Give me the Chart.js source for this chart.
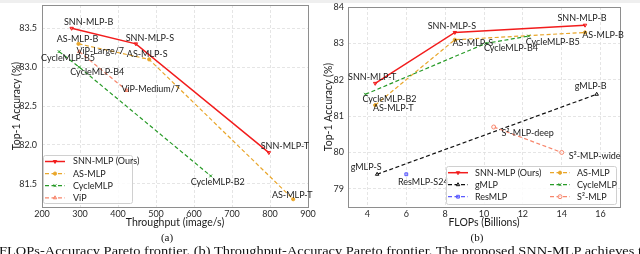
<!DOCTYPE html>
<html>
<head>
<meta charset="utf-8">
<script src="https://cdn.jsdelivr.net/npm/chart.js@4.4.1/dist/chart.umd.min.js"></script>
<style>
  html, body { margin: 0; padding: 0; background: #fff; }
  body { width: 640px; height: 254px; overflow: hidden; position: relative; }
  .topband { position: absolute; left: 0; top: 0; width: 640px; height: 3px; background: #efefef; }
  .panel { position: absolute; top: 0; width: 320px; height: 232px; }
  .sub { position: absolute; top: 231px; font: 11px/12px "Liberation Serif", serif; color: #111; transform: translateX(-50%); }
  .caption { position: absolute; left: -1px; top: 244px; white-space: nowrap; font: 13px/13px "Liberation Serif", serif; color: #111; transform-origin: 0 0; }
</style>
</head>
<body>
<div class="topband"></div>
<div class="panel" style="left:0"><canvas id="chartA" width="320" height="232"></canvas></div>
<div class="panel" style="left:320px"><canvas id="chartB" width="320" height="232"></canvas></div>
<div class="sub" style="left:167px">(a)</div>
<div class="sub" style="left:477px">(b)</div>
<div class="caption" id="caption">FLOPs-Accuracy Pareto frontier. (b) Throughput-Accuracy Pareto frontier. The proposed SNN-MLP achieves t</div>
<script>
// (a) throughput vs top-1
const snnThroughput = [278, 447, 797];
const snnAccA = [83.5, 83.3, 81.9];
const snnNamesA = ['SNN-MLP-B', 'SNN-MLP-S', 'SNN-MLP-T'];
const asThroughput = [296, 482, 861];
const asAccA = [83.3, 83.1, 81.3];
const asNamesA = ['AS-MLP-B', 'AS-MLP-S', 'AS-MLP-T'];
const cycleThroughput = [245, 298, 644];
const cycleAccA = [83.2, 83.0, 81.6];
const cycleNamesA = ['CycleMLP-B5', 'CycleMLP-B4', 'CycleMLP-B2'];
const vipThroughput = [298, 423];
const vipAcc = [83.2, 82.7];
const vipNames = ['ViP-Large/7', 'ViP-Medium/7'];
const throughputTicks = [200, 300, 400, 500, 600, 700, 800, 900];
const accTicksA = [81.5, 82.0, 82.5, 83.0, 83.5];

// (b) FLOPs vs top-1
const snnFlops = [4.4, 8.5, 15.2];
const snnAccB = [81.9, 83.3, 83.5];
const snnNamesB = ['SNN-MLP-T', 'SNN-MLP-S', 'SNN-MLP-B'];
const asFlops = [4.4, 8.5, 15.2];
const asAccB = [81.3, 83.1, 83.3];
const asNamesB = ['AS-MLP-T', 'AS-MLP-S', 'AS-MLP-B'];
const cycleFlops = [3.9, 10.1, 12.3];
const cycleAccB = [81.6, 83.0, 83.2];
const cycleNamesB = ['CycleMLP-B2', 'CycleMLP-B4', 'CycleMLP-B5'];
const gmlpFlops = [4.5, 15.8];
const gmlpAcc = [79.4, 81.6];
const gmlpNames = ['gMLP-S', 'gMLP-B'];
const resFlops = [6.0];
const resAcc = [79.4];
const resNames = ['ResMLP-S24'];
const s2Flops = [10.5, 14.0];
const s2Acc = [80.7, 80.0];
const s2Names = ['S²-MLP-deep', 'S²-MLP-wide'];
const flopsTicks = [4, 6, 8, 10, 12, 14, 16];
const accTicksB = [79, 80, 81, 82, 83, 84];

const FONT = 'Lato, "Open Sans", sans-serif';
const RED = '#f21c1c', ORANGE = '#e9a62a', GREEN = '#279a27', SALMON = '#f7866c', BLUE = '#5a5aff', BLACK = '#111111';

const pts = (xs, ys) => xs.map((x, i) => ({ x: x, y: ys[i] }));

function series(label, xs, ys, names, color, style, extra) {
  return Object.assign({
    label: label,
    data: pts(xs, ys),
    names: names,
    borderColor: color,
    backgroundColor: color,
    pointBorderColor: color,
    pointBackgroundColor: color,
    borderWidth: 1.2,
    borderDash: [4, 2.5],
    pointStyle: style,
    pointRadius: 2,
    pointBorderWidth: 1,
    showLine: true,
    fill: false,
    tension: 0
  }, extra || {});
}

// label positions relative to the point (px)
const offsetsA = {
  'SNN-MLP-B': [17, -6], 'SNN-MLP-S': [14, -6], 'SNN-MLP-T': [16, -7],
  'AS-MLP-B': [-1, -5], 'AS-MLP-S': [-2, -5], 'AS-MLP-T': [-1, -4],
  'CycleMLP-B5': [9, 6], 'CycleMLP-B4': [18, 5], 'CycleMLP-B2': [7, 6],
  'ViP-Large/7': [21, -1], 'ViP-Medium/7': [24, -1]
};
const offsetsB = {
  'SNN-MLP-T': [-3, -6], 'SNN-MLP-S': [-3, -6], 'SNN-MLP-B': [-3, -7],
  'AS-MLP-T': [18, 3], 'AS-MLP-S': [18, 3], 'AS-MLP-B': [18, 3],
  'CycleMLP-B2': [24, 5], 'CycleMLP-B4': [25, 5], 'CycleMLP-B5': [24, 6],
  'gMLP-S': [-11, -7], 'gMLP-B': [-6, -8], 'ResMLP-S24': [17, 8],
  'S²-MLP-deep': [34, 6], 'S²-MLP-wide': [33, 4]
};

const frame = {
  id: 'frame',
  beforeDatasetsDraw(chart) {
    const a = chart.chartArea, ctx = chart.ctx;
    ctx.save();
    ctx.strokeStyle = '#8e8e8e';
    ctx.lineWidth = 1;
    ctx.strokeRect(Math.round(a.left) + 0.5, Math.round(a.top) + 0.5, Math.round(a.right - a.left), Math.round(a.bottom - a.top));
    ctx.restore();
  }
};

const pointLabels = {
  id: 'pointLabels',
  afterDatasetsDraw(chart, args, opts) {
    const ctx = chart.ctx;
    ctx.save();
    ctx.font = '9px ' + FONT;
    ctx.fillStyle = '#1b1b1b';
    ctx.textAlign = 'center';
    ctx.textBaseline = 'middle';
    chart.data.datasets.forEach((ds, di) => {
      if (!ds.names) return;
      const meta = chart.getDatasetMeta(di);
      ds.names.forEach((name, i) => {
        const el = meta.data[i];
        const off = opts.offsets[name] || [0, 0];
        ctx.fillText(name, el.x + off[0], el.y + off[1]);
      });
    });
    ctx.restore();
  }
};

const boxLegend = {
  id: 'boxLegend',
  afterDraw(chart, args, opts) {
    const ctx = chart.ctx;
    ctx.save();
    ctx.fillStyle = 'rgba(255,255,255,0.85)';
    ctx.strokeStyle = '#d0d0d0';
    ctx.lineWidth = 1;
    ctx.beginPath();
    ctx.roundRect(opts.x + 0.5, opts.y + 0.5, opts.w, opts.h, 2);
    ctx.fill();
    ctx.stroke();
    ctx.font = '9px ' + FONT;
    ctx.textBaseline = 'middle';
    ctx.textAlign = 'left';
    opts.columns.forEach(col => {
      col.items.forEach((di, r) => {
        const ds = chart.data.datasets[di];
        const y = opts.firstRow + r * opts.rowH;
        ctx.strokeStyle = ds.borderColor;
        ctx.lineWidth = ds.borderWidth;
        ctx.setLineDash(ds.borderDash || []);
        ctx.beginPath();
        ctx.moveTo(col.x, y);
        ctx.lineTo(col.x + opts.lineW, y);
        ctx.stroke();
        ctx.setLineDash([]);
        ctx.fillStyle = ds.pointBackgroundColor;
        ctx.strokeStyle = ds.pointBorderColor;
        ctx.lineWidth = ds.pointBorderWidth;
        Chart.helpers.drawPoint(ctx, { pointStyle: ds.pointStyle, radius: ds.pointRadius, rotation: ds.pointRotation || 0, borderWidth: ds.pointBorderWidth }, col.x + opts.lineW / 2, y);
        ctx.fillStyle = '#1b1b1b';
        ctx.fillText(ds.label, col.x + opts.lineW + opts.gap, y);
      });
    });
    ctx.restore();
  }
};

function axis(min, max, ticks, title, fmt, fit, tickPad, titlePad) {
  return {
    type: 'linear',
    min: min,
    max: max,
    afterBuildTicks: s => { s.ticks = ticks.map(v => ({ value: v })); },
    afterFit: fit,
    grid: { color: '#dedede', lineWidth: 0.8, drawTicks: false },
    border: { display: false, dash: [3, 2] },
    ticks: { autoSkip: false, maxRotation: 0, padding: tickPad, color: '#2a2a2a', font: { family: FONT, size: 9 }, callback: v => fmt(v) },
    title: { display: true, text: title, color: '#1b1b1b', font: { family: FONT, size: 10.5 }, padding: titlePad }
  };
}
const fitY = w => s => { s.width = w; s.paddingTop = 0; s.paddingBottom = 0; };
const fitX = h => s => { s.height = h; s.paddingLeft = 0; s.paddingRight = 0; };

const datasetsA = [
  series('SNN-MLP (Ours)', snnThroughput, snnAccA, snnNamesA, RED, 'triangle', { borderDash: [], borderWidth: 1.5, pointRotation: 180, pointBackgroundColor: 'rgba(242,28,28,0.35)' }),
  series('AS-MLP', asThroughput, asAccA, asNamesA, ORANGE, 'circle', { pointRadius: 1.6 }),
  series('CycleMLP', cycleThroughput, cycleAccA, cycleNamesA, GREEN, 'crossRot'),
  series('ViP', vipThroughput, vipAcc, vipNames, SALMON, 'triangle', { pointBackgroundColor: 'rgba(247,134,108,0.3)' })
];

new Chart(document.getElementById('chartA'), {
  type: 'line',
  data: { datasets: datasetsA.slice().reverse() },
  options: {
    responsive: false,
    animation: false,
    devicePixelRatio: 1,
    layout: { padding: { left: 0, right: 12, top: 5, bottom: 0 } },
    scales: {
      x: axis(200, 900, throughputTicks, 'Throughput (image/s)', v => String(v), fitX(25), 2, { top: 0, bottom: 3 }),
      y: axis(81.2, 83.8, accTicksA, 'Top-1 Accuracy (%)', v => v.toFixed(1), fitY(42), 5, { top: 10, bottom: 0 })
    },
    plugins: {
      legend: { display: false },
      tooltip: { enabled: false },
      pointLabels: { offsets: offsetsA },
      boxLegend: { x: 43, y: 155, w: 89, h: 48, firstRow: 161.5, rowH: 12.1, lineW: 20, gap: 8,
        columns: [{ x: 45, items: [3, 2, 1, 0] }] }
    }
  },
  plugins: [frame, pointLabels, boxLegend]
});

const datasetsB = [
  series('SNN-MLP (Ours)', snnFlops, snnAccB, snnNamesB, RED, 'triangle', { borderDash: [], borderWidth: 1.5, pointRotation: 180, pointBackgroundColor: 'rgba(242,28,28,0.35)' }),
  series('gMLP', gmlpFlops, gmlpAcc, gmlpNames, BLACK, 'triangle', { pointBackgroundColor: 'rgba(255,255,255,0.6)' }),
  series('ResMLP', resFlops, resAcc, resNames, BLUE, 'rect', { pointBackgroundColor: 'rgba(90,90,255,0.35)' }),
  series('AS-MLP', asFlops, asAccB, asNamesB, ORANGE, 'circle', { pointRadius: 1.6 }),
  series('CycleMLP', cycleFlops, cycleAccB, cycleNamesB, GREEN, 'crossRot'),
  series('S²-MLP', s2Flops, s2Acc, s2Names, SALMON, 'circle', { pointBackgroundColor: 'rgba(255,255,255,0.6)' })
];
const orderB = [5, 4, 3, 2, 1, 0];

new Chart(document.getElementById('chartB'), {
  type: 'line',
  data: { datasets: orderB.map(i => datasetsB[i]) },
  options: {
    responsive: false,
    animation: false,
    devicePixelRatio: 1,
    layout: { padding: { left: 0, right: 20, top: 7, bottom: 0 } },
    scales: {
      x: axis(3, 17, flopsTicks, 'FLOPs (Billions)', v => String(v), fitX(25), 2, { top: 0, bottom: 3 }),
      y: axis(78.5, 84, accTicksB, 'Top-1 Accuracy (%)', v => String(v), fitY(28), 4, { top: 2, bottom: 0 })
    },
    plugins: {
      legend: { display: false },
      tooltip: { enabled: false },
      pointLabels: { offsets: offsetsB },
      boxLegend: { x: 126, y: 166, w: 170, h: 38, firstRow: 172.7, rowH: 12, lineW: 20, gap: 7,
        columns: [{ x: 128, items: [5, 4, 3] }, { x: 230, items: [2, 1, 0] }] }
    }
  },
  plugins: [frame, pointLabels, boxLegend]
});

const cap = document.getElementById('caption');
cap.style.transform = 'scaleX(' + (643 / cap.getBoundingClientRect().width) + ')';
</script>
</body>
</html>
